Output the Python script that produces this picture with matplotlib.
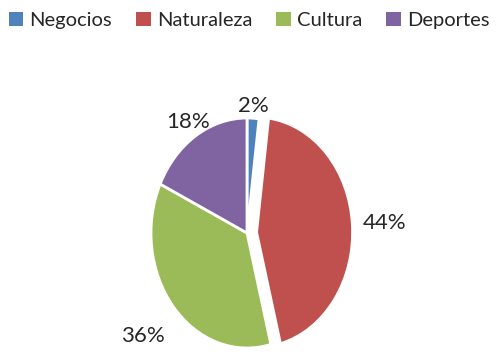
import numpy as np
import matplotlib
matplotlib.use("Agg")
import matplotlib.pyplot as plt
from matplotlib.patches import Patch

# ── data ─────────────────────────────────────────────────────────────────────
categories = ["Negocios", "Naturaleza", "Cultura", "Deportes"]
shares = [2, 44, 36, 18]
colors = ["#4F81BD", "#C0504D", "#9BBB59", "#8064A2"]
explode = [0.0, 0.10, 0.0, 0.0]
label_dist = [1.11, 1.34, 1.41, 1.14]

plt.rcParams["font.family"] = ["Lato", "DejaVu Sans"]

W, H = 498, 354
fig = plt.figure(figsize=(W / 100, H / 100), dpi=100)

# pie axes placed in pixels: centre (247, 121 from bottom), radii 96 x 115 px
span = 1.5
cx, cy, rx, ry = 247, 121, 96, 115
ax = fig.add_axes([(cx - rx * span) / W, (cy - ry * span) / H,
                   2 * rx * span / W, 2 * ry * span / H])

wedges, _ = ax.pie(shares, colors=colors, explode=explode, startangle=90,
                   counterclock=False,
                   wedgeprops=dict(edgecolor="white", linewidth=2))
ax.set_aspect("auto")
ax.set_xlim(-span, span)
ax.set_ylim(-span, span)

# percentage labels outside each slice
for w, v, d, e in zip(wedges, shares, label_dist, explode):
    mid = np.deg2rad((w.theta1 + w.theta2) / 2)
    ox, oy = e * np.cos(mid), e * np.sin(mid)
    ax.text(ox + d * np.cos(mid), oy + d * np.sin(mid), f"{v}%",
            ha="center", va="center", fontsize=16, color="#262626",
            clip_on=False)

handles = [Patch(facecolor=c, edgecolor="none") for c in colors]
fig.legend(handles, categories, loc="upper center", bbox_to_anchor=(0.5, 1.0),
           ncol=4, frameon=False, fontsize=14.5, handlelength=0.72,
           handleheight=0.72, handletextpad=0.3, columnspacing=1.2,
           borderaxespad=0.2, labelcolor="#262626")

fig.savefig("out.png", dpi=100)
